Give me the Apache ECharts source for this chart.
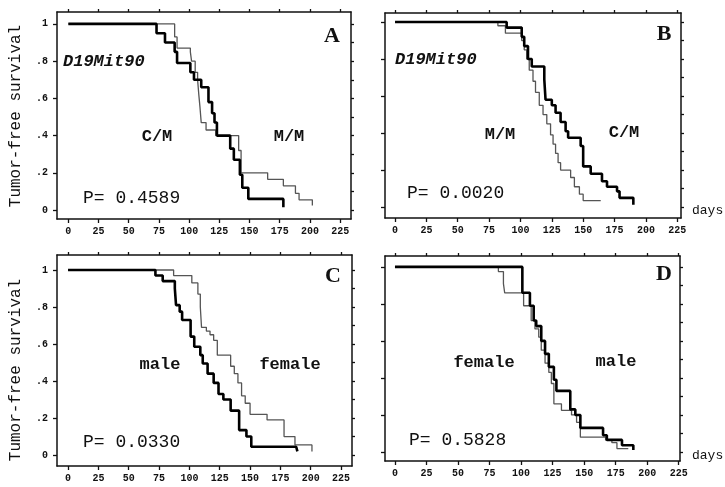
<!DOCTYPE html>
<html><head><meta charset="utf-8">
<script src="https://cdn.jsdelivr.net/npm/echarts@6/dist/echarts.min.js"></script>
<style>html,body{margin:0;padding:0;background:#fff}#c{width:725px;height:487px}</style>
</head><body><div id="c"></div>
<script>
// ---------- tick values / labels ----------
const xTicks = [0, 25, 50, 75, 100, 125, 150, 175, 200, 225];
const yTicks = [0, 0.2, 0.4, 0.6, 0.8, 1];
const yTickLabels = ['0', '.2', '.4', '.6', '.8', '1'];
const yMinorTicks = [0, 0.1, 0.2, 0.3, 0.4, 0.5, 0.6, 0.7, 0.8, 0.9, 1];

// ---------- Panel A: D19Mit90 ----------
const aCMDays = [0, 73, 80, 88, 90, 101, 104, 110, 116, 119, 121, 123, 134, 137, 142, 144, 149, 178];
const aCMSurv = [1, .95, .90, .85, .79, .74, .70, .66, .58, .52, .47, .40, .33, .27, .19, .12, .06, .015];
const aMMDays = [0, 88, 90, 101, 102, 105, 107, 108, 109, 110, 114, 122, 141, 143, 165, 178, 188, 191, 202];
const aMMSurv = [1, .93, .87, .85, .80, .74, .70, .62, .55, .47, .43, .40, .32, .20, .165, .13, .09, .055, .025];

// ---------- Panel B: D19Mit90 ----------
const bCMDays = [0, 89, 101, 103, 106, 109, 119, 120, 125, 128, 132, 136, 138, 148, 150, 156, 165, 169, 177, 179, 190];
const bCMSurv = [1, .97, .92, .87, .80, .76, .69, .58, .55, .51, .46, .41, .375, .33, .22, .18, .14, .11, .085, .05, .012];
const bMMDays = [0, 82, 88, 101, 103, 105, 107, 110, 112, 115, 118, 121, 124, 126, 128, 130, 132, 140, 143, 147, 150, 164];
const bMMSurv = [1, .98, .94, .90, .85, .80, .74, .68, .62, .55, .50, .45, .39, .34, .29, .24, .20, .16, .11, .07, .035, .035];

// ---------- Panel C: sex ----------
const cMaleDays = [0, 72, 78, 88, 89, 92, 94, 101, 104, 109, 111, 115, 120, 124, 128, 134, 141, 147, 151, 188, 189];
const cMaleSurv = [1, .97, .94, .90, .81, .775, .73, .64, .585, .54, .495, .44, .39, .33, .30, .24, .135, .10, .045, .045, .02];
const cFemaleDays = [0, 87, 102, 107, 109, 110, 114, 117, 120, 123, 134, 137, 140, 143, 146, 150, 164, 178, 187, 201];
const cFemaleSurv = [1, .97, .93, .87, .80, .69, .67, .65, .62, .54, .48, .44, .39, .32, .28, .22, .19, .10, .055, .02];

// ---------- Panel D: sex ----------
const dMaleDays = [0, 101, 107, 110, 112, 116, 119, 122, 126, 128, 139, 143, 147, 165, 168, 180, 189];
const dMaleSurv = [1, .86, .79, .71, .68, .60, .53, .46, .39, .33, .23, .20, .13, .09, .065, .036, .01];
const dFemaleDays = [0, 82, 86, 87, 102, 108, 111, 114, 116, 119, 122, 124, 126, 132, 140, 144, 147, 167, 172, 176, 185];
const dFemaleSurv = [1, .975, .91, .86, .79, .71, .665, .62, .55, .48, .43, .37, .26, .225, .20, .16, .08, .064, .05, .018, .018];

const zip = (d, s) => d.map((v, i) => [v, s[i]]);

const MONO = '"Liberation Mono", "DejaVu Sans Mono", monospace';
const panels = [
  { grid: { left: 57, top: 12, width: 294, height: 207 }, xmin: -9.4, xmax: 234, ymin: -0.048, ymax: 1.064, yLabels: true,
    thick: zip(aCMDays, aCMSurv), thin: zip(aMMDays, aMMSurv) },
  { grid: { left: 385, top: 13, width: 296, height: 205 }, xmin: -8, xmax: 228, ymin: -0.059, ymax: 1.049, yLabels: false,
    thick: zip(bCMDays, bCMSurv), thin: zip(bMMDays, bMMSurv) },
  { grid: { left: 57, top: 255, width: 295, height: 211 }, xmin: -9.1, xmax: 234, ymin: -0.059, ymax: 1.081, yLabels: true,
    thick: zip(cMaleDays, cMaleSurv), thin: zip(cFemaleDays, cFemaleSurv) },
  { grid: { left: 385, top: 256, width: 295, height: 205 }, xmin: -7.9, xmax: 226, ymin: -0.049, ymax: 1.059, yLabels: false,
    thick: zip(dMaleDays, dMaleSurv), thin: zip(dFemaleDays, dFemaleSurv) }
];

const axLine = { show: true, onZero: false, lineStyle: { color: '#111', width: 1.5 } };
const tickStyle = { color: '#111', width: 1.3 };
const grids = [], xAxes = [], yAxes = [], series = [];
panels.forEach((p, i) => {
  grids.push(p.grid);
  xAxes.push({ gridIndex: i, type: 'value', position: 'bottom', min: p.xmin, max: p.xmax,
    axisLine: axLine, splitLine: { show: false },
    axisTick: { show: true, customValues: xTicks, length: 4, lineStyle: tickStyle },
    axisLabel: { show: true, customValues: xTicks, margin: 7, fontFamily: MONO, fontSize: 10, fontWeight: 'bold', color: '#111' } });
  xAxes.push({ gridIndex: i, type: 'value', position: 'top', min: p.xmin, max: p.xmax,
    axisLine: axLine, splitLine: { show: false },
    axisTick: { show: true, customValues: xTicks, length: 3, lineStyle: tickStyle },
    axisLabel: { show: false } });
  yAxes.push({ gridIndex: i, type: 'value', position: 'left', min: p.ymin, max: p.ymax,
    axisLine: axLine, splitLine: { show: false },
    axisTick: { show: true, customValues: yTicks, length: 4, lineStyle: tickStyle },
    axisLabel: { show: p.yLabels, customValues: yTicks, margin: 9, fontFamily: MONO, fontSize: 10, fontWeight: 'bold', color: '#111',
      formatter: v => { const k = yTicks.findIndex(t => Math.abs(t - v) < 1e-6); return k >= 0 ? yTickLabels[k] : ''; } } });
  yAxes.push({ gridIndex: i, type: 'value', position: 'right', min: p.ymin, max: p.ymax,
    axisLine: axLine, splitLine: { show: false },
    axisTick: { show: true, customValues: yMinorTicks, length: 3, lineStyle: tickStyle },
    axisLabel: { show: false } });
  series.push({ type: 'line', xAxisIndex: 2 * i, yAxisIndex: 2 * i, step: 'end', symbol: 'none',
    lineStyle: { color: '#555', width: 1.3 }, data: p.thin, z: 2 });
  series.push({ type: 'line', xAxisIndex: 2 * i, yAxisIndex: 2 * i, step: 'end', symbol: 'none',
    lineStyle: { color: '#000', width: 2.6 }, data: p.thick, z: 3 });
});

const txt = (text, x, y, font, align, rot) => ({ type: 'text', x, y, rotation: rot || 0,
  style: { text, font, fill: '#111', align: align || 'center', verticalAlign: 'middle' } });
const fLetter = 'bold 22px "Liberation Serif", serif';
const fLabel = 'bold 17px ' + MONO;
const fP = '18px ' + MONO;
const fMit = 'italic bold 17px ' + MONO;
const fName = '16px ' + MONO;
const graphic = [
  txt('Tumor-free survival', 16, 116, fName, 'center', Math.PI / 2),
  txt('Tumor-free survival', 16, 370, fName, 'center', Math.PI / 2),
  txt('A', 332, 36, fLetter), txt('B', 664, 34, fLetter), txt('C', 333, 276, fLetter), txt('D', 664, 274, fLetter),
  txt('D19Mit90', 63, 62, fMit, 'left'), txt('D19Mit90', 395, 60, fMit, 'left'),
  txt('C/M', 157, 137, fLabel), txt('M/M', 289, 137, fLabel),
  txt('M/M', 500, 135, fLabel), txt('C/M', 624, 133, fLabel),
  txt('male', 160, 365, fLabel), txt('female', 290, 365, fLabel),
  txt('female', 484, 363, fLabel), txt('male', 616, 362, fLabel),
  txt('P= 0.4589', 83, 198, fP, 'left'), txt('P= 0.0020', 407, 193, fP, 'left'),
  txt('P= 0.0330', 83, 442, fP, 'left'), txt('P= 0.5828', 409, 440, fP, 'left'),
  txt('days', 692, 211, '13px ' + MONO, 'left'), txt('days', 692, 456, '13px ' + MONO, 'left')
];

const chart = echarts.init(document.getElementById('c'), null, { renderer: 'canvas' });
chart.setOption({ animation: false, backgroundColor: '#fff', grid: grids, xAxis: xAxes, yAxis: yAxes, series, graphic });
</script></body></html>
